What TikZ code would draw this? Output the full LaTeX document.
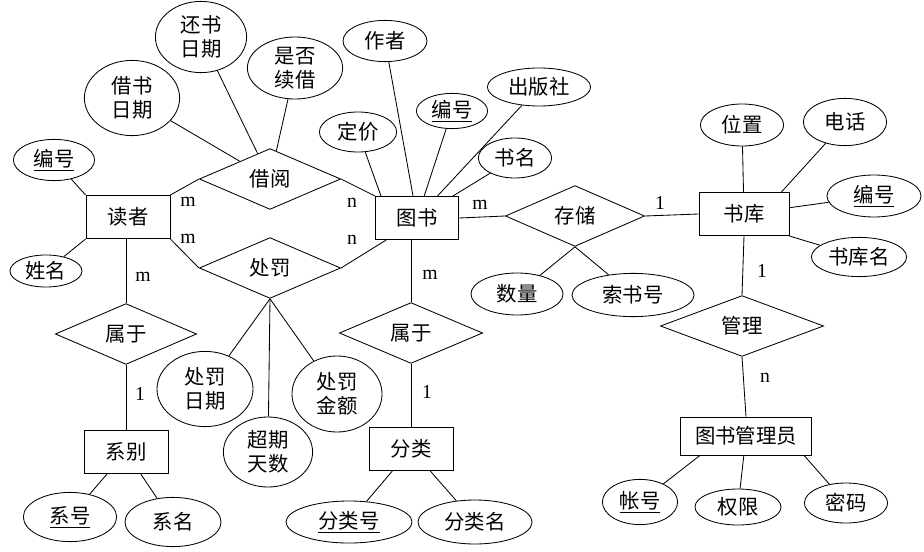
\documentclass[tikz,border=0pt]{standalone}
\usepackage{fontspec}
\setmainfont{Liberation Serif}
\newfontfamily\cjk{Noto Sans CJK SC}
\usetikzlibrary{shapes.geometric}

\begin{document}
\begin{tikzpicture}[x=0.025cm, y=-0.025cm, line width=0.6pt,
    every node/.style={font=\cjk\fontsize{14.5}{17}\selectfont},
    entity/.style={draw, rectangle, minimum width=2.1cm, minimum height=1.08cm},
    relation/.style={draw, diamond, inner sep=0pt, minimum width=3.53cm, minimum height=1.52cm},
    attr/.style 2 args={draw, ellipse, inner sep=0pt, align=center, minimum width=#1, minimum height=#2},
    card/.style={font=\fontsize{14}{16}\selectfont}]
        \useasboundingbox (0,0) rectangle (924,551);

        % Entities
        \node[entity] (duzhe) at (128,217) {读者};
        \node[entity, minimum width=2.08cm] (tushu) at (417,218) {图书};
        \node[entity, minimum width=2.25cm] (shuku) at (744,214) {书库};
        \node[entity] (xibie) at (126,452) {系别};
        \node[entity] (fenlei) at (411,449) {分类};
        \node[entity, minimum width=3.28cm, minimum height=0.95cm] (guanliyuan) at (746,436) {图书管理员};

        % Relations
        \node[relation] (jieyue) at (270,179) {借阅};
        \node[relation] (chufa) at (270,268) {处罚};
        \node[relation, minimum width=3.48cm] (cunchu) at (575,216) {存储};
        \node[relation] (shuyuA) at (126,334) {属于};
        \node[relation, minimum width=3.58cm] (shuyuB) at (411,333) {属于};
        \node[relation, minimum width=4.08cm] (guanli) at (742,326) {管理};

        % Attributes
        \node[attr={2.28cm}{1.78cm}] (hsrq) at (201,37) {还书\\日期};
        \node[attr={2.38cm}{1.55cm}] (sfxj) at (295,68) {是否\\续借};
        \node[attr={2.38cm}{1.88cm}] (jsrq) at (132,98) {借书\\日期};
        \node[attr={2.1cm}{1.03cm}] (zuozhe) at (385,41) {作者};
        \node[attr={1.93cm}{1.0cm}] (dingjia) at (358,132) {定价};
        \node[attr={1.78cm}{0.88cm}] (tsbh) at (452,111) {\underline{编号}};
        \node[attr={2.58cm}{0.95cm}] (cbs) at (539,87) {出版社};
        \node[attr={1.83cm}{1.0cm}] (shuming) at (515,158) {书名};
        \node[attr={2.03cm}{1.03cm}] (dzbh) at (54,160) {\underline{编号}};
        \node[attr={1.8cm}{0.8cm}] (xingming) at (46,271) {姓名};
        \node[attr={2.08cm}{1.05cm}] (weizhi) at (742,125) {位置};
        \node[attr={2.08cm}{1.18cm}] (dianhua) at (845,122) {电话};
        \node[attr={2.35cm}{1.05cm}] (skbh) at (874,196) {\underline{编号}};
        \node[attr={2.38cm}{0.98cm}] (skm) at (859,257) {书库名};
        \node[attr={2.3cm}{1.05cm}] (shuliang) at (517,294) {数量};
        \node[attr={3.05cm}{1.08cm}] (ssh) at (633,295) {索书号};
        \node[attr={2.4cm}{1.88cm}] (cfrq) at (205,389) {处罚\\日期};
        \node[attr={2.23cm}{1.75cm}] (cqts) at (268,452) {超期\\天数};
        \node[attr={2.25cm}{1.9cm}] (cfje) at (337,394) {处罚\\金额};
        \node[attr={2.33cm}{1.23cm}] (xh) at (70,517) {\underline{系号}};
        \node[attr={2.4cm}{1.23cm}] (xm) at (173,522) {系名};
        \node[attr={3.15cm}{1.05cm}] (flh) at (349,522) {\underline{分类号}};
        \node[attr={2.85cm}{1.1cm}] (flm) at (475,522) {分类名};
        \node[attr={1.88cm}{1.13cm}] (zh) at (640,502) {\underline{帐号}};
        \node[attr={2.15cm}{0.9cm}] (qx) at (738,507) {权限};
        \node[attr={2.08cm}{1.0cm}] (mm) at (846,503) {密码};

        % Cardinalities
        \node[card] (cardA) at (188,202) {m};
        \node[card] (cardB) at (352,203) {n};
        \node[card] (cardC) at (188,239) {m};
        \node[card] (cardD) at (352,240) {n};
        \node[card] (cardE) at (143,277) {m};
        \node[card] (cardF) at (140,394) {1};
        \node[card] (cardG) at (430,275) {m};
        \node[card] (cardH) at (427,392) {1};
        \node[card] (cardI) at (480,205) {m};
        \node[card] (cardJ) at (660,203) {1};
        \node[card] (cardK) at (762,271) {1};
        \node[card] (cardL) at (765,378) {n};

        % Relation lines
        \draw (duzhe.north east) -- (jieyue.west);
        \draw (jieyue.east) -- (tushu.north west);
        \draw (duzhe.south east) -- (chufa.west);
        \draw (chufa.east) -- ([xshift=0.28cm]tushu.south west);
        \draw (duzhe.south -| shuyuA.north) -- (shuyuA.north);
        \draw (shuyuA.south) -- (xibie.north);
        \draw (tushu.south -| shuyuB.north) -- (shuyuB.north);
        \draw (shuyuB.south) -- (fenlei.north);
        \draw (tushu.east) -- (cunchu.west);
        \draw (cunchu.east) -- (shuku.west);
        \draw (shuku.south) -- (guanli.north);
        \draw (guanli.south) -- (guanliyuan.north);

        % Attribute lines
        \draw (jsrq) -- (jieyue);
        \draw (hsrq) -- (jieyue);
        \draw (sfxj) -- (jieyue);
        \draw (dingjia) -- ([xshift=0.15cm]tushu.north west);
        \draw (zuozhe) -- (tushu);
        \draw (tsbh) -- (tushu);
        \draw (cbs) -- (tushu);
        \draw (shuming) -- (tushu);
        \draw (dzbh) -- (duzhe.north west);
        \draw (xingming) -- (duzhe.south west);
        \draw (weizhi) -- (shuku);
        \draw (dianhua) -- ([xshift=-0.2cm]shuku.north east);
        \draw (skbh) -- (shuku);
        \draw (skm) -- (shuku.south east);
        \draw (cunchu.south) -- (shuliang);
        \draw (cunchu.south) -- (ssh);
        \draw (chufa.south) -- (cfrq);
        \draw (chufa.south) -- (cqts);
        \draw (chufa.south) -- (cfje);
        \draw (xh) -- (xibie);
        \draw (xm) -- (xibie);
        \draw (flh) -- (fenlei);
        \draw (flm) -- (fenlei);
        \draw ([xshift=0.5cm]guanliyuan.south west) -- (zh);
        \draw (guanliyuan) -- (qx);
        \draw ([xshift=-0.2cm]guanliyuan.south east) -- (mm);
    \end{tikzpicture}
\end{document}
